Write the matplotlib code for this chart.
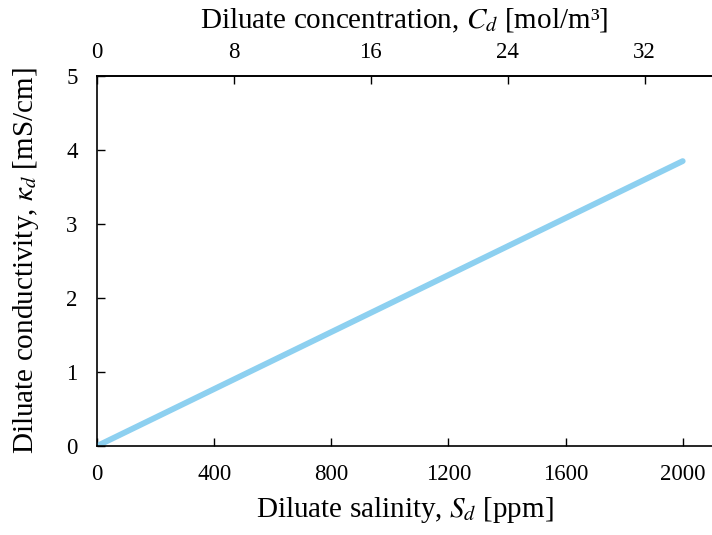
import matplotlib
matplotlib.use("Agg")
import matplotlib.pyplot as plt

# diluate salinity [ppm] vs conductivity [mS/cm]
salinity_ppm = [0, 2000]
conductivity = [0.0, 3.85]

x_ticks = [0, 400, 800, 1200, 1600, 2000]
y_ticks = [0, 1, 2, 3, 4, 5]
c_ticks = [0, 8, 16, 24, 32]
molar_mass = 58.44  # NaCl, g/mol

plt.rcParams["font.family"] = ["Liberation Serif", "DejaVu Serif"]
plt.rcParams["mathtext.fontset"] = "stix"

fig = plt.figure(figsize=(7.12, 5.35), dpi=100)
ax = fig.add_axes([97 / 712, 89 / 535, 615 / 712, 370 / 535])

ax.plot(salinity_ppm, conductivity, color="#8dd0f0", lw=4.2, solid_capstyle="round")

ax.set_xlim(0, 2100)
ax.set_ylim(0, 5)
ax.set_xticks(x_ticks)
ax.set_yticks(y_ticks)
ax.spines["right"].set_visible(False)
for s in ("left", "bottom", "top"):
    ax.spines[s].set_linewidth(1.2)
ax.tick_params(axis="x", direction="in", length=6, width=1, labelsize=16.5, pad=13)
ax.tick_params(axis="y", direction="in", length=6, width=1, labelsize=16.5, pad=14)
ax.set_xlabel(r"Diluate salinity, $S_d$ [ppm]", fontsize=21, labelpad=7)
ax.set_ylabel(r"Diluate conductivity, $\kappa_d$ [mS/cm]", fontsize=21, labelpad=18)

top = ax.secondary_xaxis("top", functions=(lambda s: s / molar_mass, lambda c: c * molar_mass))
top.set_xticks(c_ticks)
top.tick_params(direction="in", length=6, width=1, labelsize=16.5, pad=9.5)
top.spines["top"].set_linewidth(1.2)
top.set_xlabel(r"Diluate concentration, $C_d$ [mol/m³]", fontsize=21, labelpad=10)

fig.savefig("out.png", dpi=100)
